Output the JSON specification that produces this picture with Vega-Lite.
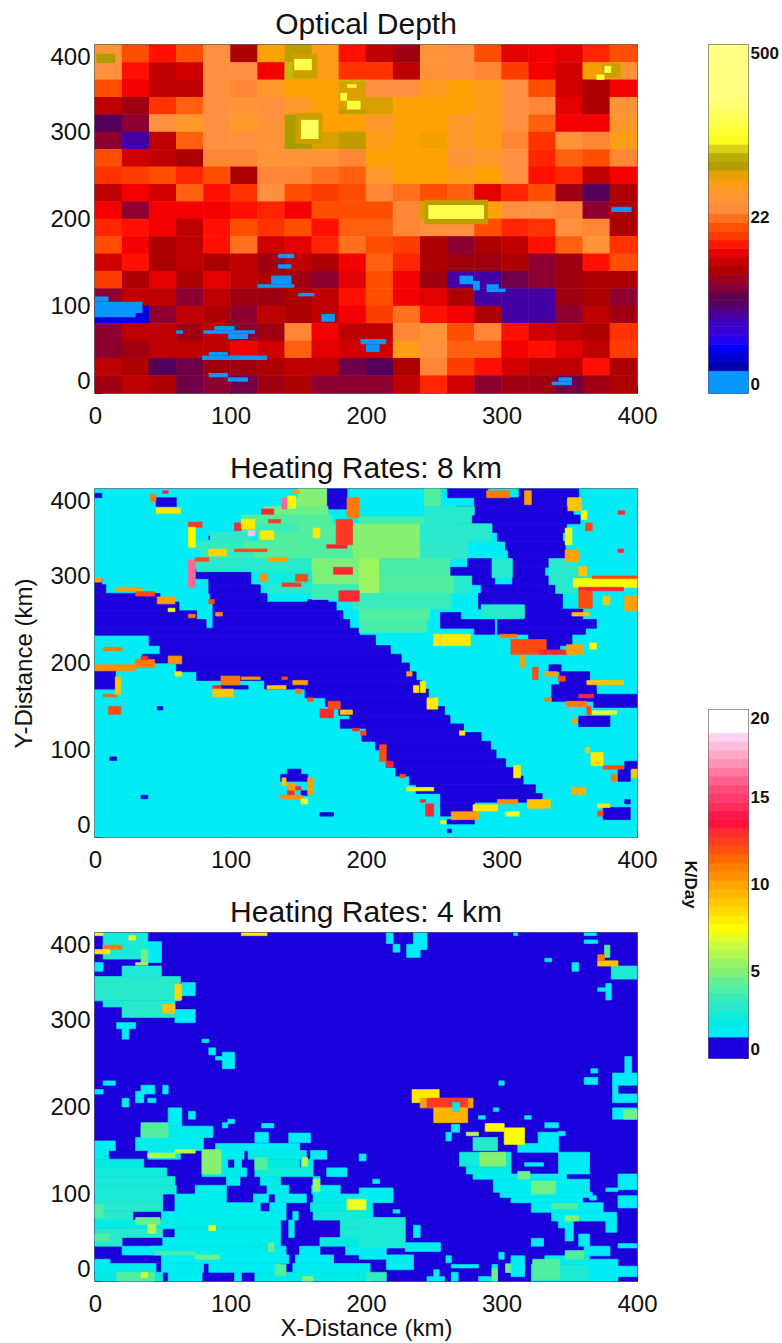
{"$schema":"https://vega.github.io/schema/vega-lite/v6.json","background":"white","padding":{"left":12,"top":8,"right":0,"bottom":0},"bounds":"flush","spacing":614,"resolve":{"scale":{"color":"independent","stroke":"independent"}},
"config":{"view":{"stroke":"#333333","strokeWidth":1.5},"axis":{"grid":false,"labelFont":"Liberation Sans","labelFontSize":24,"labelColor":"#111","tickColor":"#222","domain":false,"titleFont":"Liberation Sans","titleFontWeight":"normal","titleColor":"#111"},"title":{"font":"Liberation Sans","fontSize":30,"fontWeight":"normal","color":"#111","offset":5}},
"hconcat":[{"resolve":{"scale":{"color":"independent","stroke":"independent"}},"vconcat":[
{"width":542,"height":348,"title":"Optical Depth","layer":[
{"data":{"values":[
{"x":10,"y":390,"v":30},{"x":30,"y":390,"v":18},{"x":50,"y":390,"v":13},{"x":70,"y":390,"v":18},{"x":90,"y":390,"v":27},{"x":110,"y":390,"v":8},{"x":130,"y":390,"v":43},{"x":150,"y":390,"v":55},{"x":170,"y":390,"v":40},{"x":190,"y":390,"v":13},{"x":210,"y":390,"v":9},{"x":230,"y":390,"v":7},{"x":250,"y":390,"v":30},{"x":270,"y":390,"v":27},{"x":290,"y":390,"v":18},{"x":310,"y":390,"v":11},{"x":330,"y":390,"v":12},{"x":350,"y":390,"v":11},{"x":370,"y":390,"v":14},{"x":390,"y":390,"v":18},
{"x":10,"y":370,"v":27},{"x":30,"y":370,"v":13},{"x":50,"y":370,"v":9},{"x":70,"y":370,"v":10},{"x":90,"y":370,"v":27},{"x":110,"y":370,"v":27},{"x":130,"y":370,"v":12},{"x":150,"y":370,"v":70},{"x":170,"y":370,"v":40},{"x":190,"y":370,"v":15},{"x":210,"y":370,"v":15},{"x":230,"y":370,"v":9},{"x":250,"y":370,"v":30},{"x":270,"y":370,"v":27},{"x":290,"y":370,"v":25},{"x":310,"y":370,"v":16},{"x":330,"y":370,"v":12},{"x":350,"y":370,"v":10},{"x":370,"y":370,"v":45},{"x":390,"y":370,"v":30},
{"x":10,"y":350,"v":18},{"x":30,"y":350,"v":12},{"x":50,"y":350,"v":9},{"x":70,"y":350,"v":9},{"x":90,"y":350,"v":27},{"x":110,"y":350,"v":25},{"x":130,"y":350,"v":35},{"x":150,"y":350,"v":43},{"x":170,"y":350,"v":43},{"x":190,"y":350,"v":70},{"x":210,"y":350,"v":27},{"x":230,"y":350,"v":27},{"x":250,"y":350,"v":38},{"x":270,"y":350,"v":43},{"x":290,"y":350,"v":40},{"x":310,"y":350,"v":27},{"x":330,"y":350,"v":18},{"x":350,"y":350,"v":10},{"x":370,"y":350,"v":8},{"x":390,"y":350,"v":12},
{"x":10,"y":330,"v":9},{"x":30,"y":330,"v":7},{"x":50,"y":330,"v":15},{"x":70,"y":330,"v":20},{"x":90,"y":330,"v":27},{"x":110,"y":330,"v":30},{"x":130,"y":330,"v":27},{"x":150,"y":330,"v":35},{"x":170,"y":330,"v":43},{"x":190,"y":330,"v":55},{"x":210,"y":330,"v":50},{"x":230,"y":330,"v":43},{"x":250,"y":330,"v":43},{"x":270,"y":330,"v":43},{"x":290,"y":330,"v":40},{"x":310,"y":330,"v":27},{"x":330,"y":330,"v":25},{"x":350,"y":330,"v":11},{"x":370,"y":330,"v":8},{"x":390,"y":330,"v":30},
{"x":10,"y":310,"v":4},{"x":30,"y":310,"v":6},{"x":50,"y":310,"v":27},{"x":70,"y":310,"v":35},{"x":90,"y":310,"v":27},{"x":110,"y":310,"v":35},{"x":130,"y":310,"v":30},{"x":150,"y":310,"v":60},{"x":170,"y":310,"v":43},{"x":190,"y":310,"v":43},{"x":210,"y":310,"v":35},{"x":230,"y":310,"v":43},{"x":250,"y":310,"v":43},{"x":270,"y":310,"v":35},{"x":290,"y":310,"v":40},{"x":310,"y":310,"v":27},{"x":330,"y":310,"v":20},{"x":350,"y":310,"v":12},{"x":370,"y":310,"v":12},{"x":390,"y":310,"v":35},
{"x":10,"y":290,"v":6},{"x":30,"y":290,"v":3},{"x":50,"y":290,"v":9},{"x":70,"y":290,"v":20},{"x":90,"y":290,"v":27},{"x":110,"y":290,"v":27},{"x":130,"y":290,"v":30},{"x":150,"y":290,"v":60},{"x":170,"y":290,"v":50},{"x":190,"y":290,"v":55},{"x":210,"y":290,"v":40},{"x":230,"y":290,"v":43},{"x":250,"y":290,"v":45},{"x":270,"y":290,"v":35},{"x":290,"y":290,"v":40},{"x":310,"y":290,"v":25},{"x":330,"y":290,"v":15},{"x":350,"y":290,"v":30},{"x":370,"y":290,"v":25},{"x":390,"y":290,"v":40},
{"x":10,"y":270,"v":18},{"x":30,"y":270,"v":10},{"x":50,"y":270,"v":9},{"x":70,"y":270,"v":8},{"x":90,"y":270,"v":25},{"x":110,"y":270,"v":25},{"x":130,"y":270,"v":30},{"x":150,"y":270,"v":30},{"x":170,"y":270,"v":30},{"x":190,"y":270,"v":25},{"x":210,"y":270,"v":43},{"x":230,"y":270,"v":43},{"x":250,"y":270,"v":43},{"x":270,"y":270,"v":30},{"x":290,"y":270,"v":35},{"x":310,"y":270,"v":27},{"x":330,"y":270,"v":14},{"x":350,"y":270,"v":20},{"x":370,"y":270,"v":18},{"x":390,"y":270,"v":25},
{"x":10,"y":250,"v":15},{"x":30,"y":250,"v":16},{"x":50,"y":250,"v":18},{"x":70,"y":250,"v":14},{"x":90,"y":250,"v":18},{"x":110,"y":250,"v":8},{"x":130,"y":250,"v":25},{"x":150,"y":250,"v":25},{"x":170,"y":250,"v":22},{"x":190,"y":250,"v":20},{"x":210,"y":250,"v":35},{"x":230,"y":250,"v":43},{"x":250,"y":250,"v":43},{"x":270,"y":250,"v":40},{"x":290,"y":250,"v":43},{"x":310,"y":250,"v":27},{"x":330,"y":250,"v":13},{"x":350,"y":250,"v":14},{"x":370,"y":250,"v":9},{"x":390,"y":250,"v":12},
{"x":10,"y":230,"v":9},{"x":30,"y":230,"v":12},{"x":50,"y":230,"v":10},{"x":70,"y":230,"v":20},{"x":90,"y":230,"v":13},{"x":110,"y":230,"v":15},{"x":130,"y":230,"v":27},{"x":150,"y":230,"v":18},{"x":170,"y":230,"v":16},{"x":190,"y":230,"v":18},{"x":210,"y":230,"v":25},{"x":230,"y":230,"v":22},{"x":250,"y":230,"v":18},{"x":270,"y":230,"v":20},{"x":290,"y":230,"v":11},{"x":310,"y":230,"v":14},{"x":330,"y":230,"v":18},{"x":350,"y":230,"v":7},{"x":370,"y":230,"v":4},{"x":390,"y":230,"v":8},
{"x":10,"y":210,"v":12},{"x":30,"y":210,"v":6},{"x":50,"y":210,"v":12},{"x":70,"y":210,"v":12},{"x":90,"y":210,"v":12},{"x":110,"y":210,"v":13},{"x":130,"y":210,"v":14},{"x":150,"y":210,"v":12},{"x":170,"y":210,"v":18},{"x":190,"y":210,"v":18},{"x":210,"y":210,"v":18},{"x":230,"y":210,"v":25},{"x":250,"y":210,"v":50},{"x":270,"y":210,"v":50},{"x":290,"y":210,"v":43},{"x":310,"y":210,"v":27},{"x":330,"y":210,"v":27},{"x":350,"y":210,"v":25},{"x":370,"y":210,"v":6},{"x":390,"y":210,"v":8},
{"x":10,"y":190,"v":14},{"x":30,"y":190,"v":13},{"x":50,"y":190,"v":12},{"x":70,"y":190,"v":9},{"x":90,"y":190,"v":13},{"x":110,"y":190,"v":18},{"x":130,"y":190,"v":15},{"x":150,"y":190,"v":18},{"x":170,"y":190,"v":13},{"x":190,"y":190,"v":20},{"x":210,"y":190,"v":20},{"x":230,"y":190,"v":25},{"x":250,"y":190,"v":27},{"x":270,"y":190,"v":27},{"x":290,"y":190,"v":18},{"x":310,"y":190,"v":14},{"x":330,"y":190,"v":15},{"x":350,"y":190,"v":27},{"x":370,"y":190,"v":25},{"x":390,"y":190,"v":8},
{"x":10,"y":170,"v":18},{"x":30,"y":170,"v":12},{"x":50,"y":170,"v":8},{"x":70,"y":170,"v":9},{"x":90,"y":170,"v":13},{"x":110,"y":170,"v":22},{"x":130,"y":170,"v":10},{"x":150,"y":170,"v":11},{"x":170,"y":170,"v":14},{"x":190,"y":170,"v":22},{"x":210,"y":170,"v":18},{"x":230,"y":170,"v":16},{"x":250,"y":170,"v":8},{"x":270,"y":170,"v":6},{"x":290,"y":170,"v":8},{"x":310,"y":170,"v":9},{"x":330,"y":170,"v":13},{"x":350,"y":170,"v":20},{"x":370,"y":170,"v":30},{"x":390,"y":170,"v":15},
{"x":10,"y":150,"v":10},{"x":30,"y":150,"v":13},{"x":50,"y":150,"v":8},{"x":70,"y":150,"v":9},{"x":90,"y":150,"v":8},{"x":110,"y":150,"v":9},{"x":130,"y":150,"v":7},{"x":150,"y":150,"v":9},{"x":170,"y":150,"v":8},{"x":190,"y":150,"v":12},{"x":210,"y":150,"v":20},{"x":230,"y":150,"v":14},{"x":250,"y":150,"v":8},{"x":270,"y":150,"v":7},{"x":290,"y":150,"v":7},{"x":310,"y":150,"v":8},{"x":330,"y":150,"v":6},{"x":350,"y":150,"v":7},{"x":370,"y":150,"v":13},{"x":390,"y":150,"v":18},
{"x":10,"y":130,"v":16},{"x":30,"y":130,"v":8},{"x":50,"y":130,"v":11},{"x":70,"y":130,"v":8},{"x":90,"y":130,"v":11},{"x":110,"y":130,"v":9},{"x":130,"y":130,"v":8},{"x":150,"y":130,"v":7},{"x":170,"y":130,"v":6},{"x":190,"y":130,"v":11},{"x":210,"y":130,"v":18},{"x":230,"y":130,"v":12},{"x":250,"y":130,"v":7},{"x":270,"y":130,"v":3},{"x":290,"y":130,"v":3},{"x":310,"y":130,"v":5},{"x":330,"y":130,"v":6},{"x":350,"y":130,"v":7},{"x":370,"y":130,"v":8},{"x":390,"y":130,"v":8},
{"x":10,"y":110,"v":6},{"x":30,"y":110,"v":9},{"x":50,"y":110,"v":9},{"x":70,"y":110,"v":6},{"x":90,"y":110,"v":9},{"x":110,"y":110,"v":7},{"x":130,"y":110,"v":7},{"x":150,"y":110,"v":8},{"x":170,"y":110,"v":9},{"x":190,"y":110,"v":13},{"x":210,"y":110,"v":18},{"x":230,"y":110,"v":12},{"x":250,"y":110,"v":11},{"x":270,"y":110,"v":8},{"x":290,"y":110,"v":3},{"x":310,"y":110,"v":3},{"x":330,"y":110,"v":3},{"x":350,"y":110,"v":7},{"x":370,"y":110,"v":8},{"x":390,"y":110,"v":6},
{"x":10,"y":90,"v":1},{"x":30,"y":90,"v":1},{"x":50,"y":90,"v":6},{"x":70,"y":90,"v":9},{"x":90,"y":90,"v":8},{"x":110,"y":90,"v":6},{"x":130,"y":90,"v":9},{"x":150,"y":90,"v":8},{"x":170,"y":90,"v":9},{"x":190,"y":90,"v":12},{"x":210,"y":90,"v":16},{"x":230,"y":90,"v":22},{"x":250,"y":90,"v":13},{"x":270,"y":90,"v":12},{"x":290,"y":90,"v":8},{"x":310,"y":90,"v":3},{"x":330,"y":90,"v":3},{"x":350,"y":90,"v":6},{"x":370,"y":90,"v":9},{"x":390,"y":90,"v":7},
{"x":10,"y":70,"v":6},{"x":30,"y":70,"v":9},{"x":50,"y":70,"v":9},{"x":70,"y":70,"v":7},{"x":90,"y":70,"v":9},{"x":110,"y":70,"v":6},{"x":130,"y":70,"v":7},{"x":150,"y":70,"v":25},{"x":170,"y":70,"v":12},{"x":190,"y":70,"v":9},{"x":210,"y":70,"v":9},{"x":230,"y":70,"v":25},{"x":250,"y":70,"v":30},{"x":270,"y":70,"v":18},{"x":290,"y":70,"v":25},{"x":310,"y":70,"v":13},{"x":330,"y":70,"v":10},{"x":350,"y":70,"v":9},{"x":370,"y":70,"v":8},{"x":390,"y":70,"v":15},
{"x":10,"y":50,"v":6},{"x":30,"y":50,"v":7},{"x":50,"y":50,"v":9},{"x":70,"y":50,"v":9},{"x":90,"y":50,"v":9},{"x":110,"y":50,"v":12},{"x":130,"y":50,"v":10},{"x":150,"y":50,"v":20},{"x":170,"y":50,"v":11},{"x":190,"y":50,"v":10},{"x":210,"y":50,"v":10},{"x":230,"y":50,"v":40},{"x":250,"y":50,"v":27},{"x":270,"y":50,"v":20},{"x":290,"y":50,"v":20},{"x":310,"y":50,"v":12},{"x":330,"y":50,"v":13},{"x":350,"y":50,"v":11},{"x":370,"y":50,"v":9},{"x":390,"y":50,"v":16},
{"x":10,"y":30,"v":9},{"x":30,"y":30,"v":8},{"x":50,"y":30,"v":4},{"x":70,"y":30,"v":5},{"x":90,"y":30,"v":7},{"x":110,"y":30,"v":7},{"x":130,"y":30,"v":8},{"x":150,"y":30,"v":9},{"x":170,"y":30,"v":9},{"x":190,"y":30,"v":5},{"x":210,"y":30,"v":4},{"x":230,"y":30,"v":8},{"x":250,"y":30,"v":25},{"x":270,"y":30,"v":16},{"x":290,"y":30,"v":13},{"x":310,"y":30,"v":10},{"x":330,"y":30,"v":9},{"x":350,"y":30,"v":9},{"x":370,"y":30,"v":13},{"x":390,"y":30,"v":8},
{"x":10,"y":10,"v":7},{"x":30,"y":10,"v":9},{"x":50,"y":10,"v":8},{"x":70,"y":10,"v":5},{"x":90,"y":10,"v":6},{"x":110,"y":10,"v":5},{"x":130,"y":10,"v":7},{"x":150,"y":10,"v":8},{"x":170,"y":10,"v":6},{"x":190,"y":10,"v":6},{"x":210,"y":10,"v":6},{"x":230,"y":10,"v":9},{"x":250,"y":10,"v":14},{"x":270,"y":10,"v":10},{"x":290,"y":10,"v":6},{"x":310,"y":10,"v":7},{"x":330,"y":10,"v":7},{"x":350,"y":10,"v":5},{"x":370,"y":10,"v":7},{"x":390,"y":10,"v":8}
]},"mark":{"type":"rect","width":27.6,"height":17.9},"encoding":{"x":{"field":"x","type":"quantitative","scale":{"domain":[0,400],"nice":false},"axis":{"values":[0,100,200,300,400],"title":null,"tickSize":-7,"labelPadding":18,"labelFlush":false}},"y":{"field":"y","type":"quantitative","scale":{"domain":[0,400],"nice":false},"axis":{"values":[0,100,200,300,400],"title":null,"tickSize":-7,"labelPadding":12,"labelFlush":true}},"color":{"field":"v","type":"quantitative","legend":null,"scale":{"domain":[0,0.48,0.5,1.24,2.93,4.19,7.28,12.6,18.3,26.6,43.4,59.6,92.4,196,455,500],"range":["#0a96ff","#0a96ff","#0000a0","#0000ff","#4000a8","#50004f","#a00000","#ff0000","#ff5000","#ff9040","#ffa000","#a89a00","#ffff20","#ffff80","#ffffff","#ffffff"]}}}},
{"data":{"values":[
{"x":1,"x2":15,"y":379,"y2":390,"v":58},{"x":146,"x2":164,"y":362,"y2":390,"v":52},{"x":148,"x2":168,"y":286,"y2":322,"v":52},{"x":180,"x2":200,"y":326,"y2":358,"v":50},{"x":374,"x2":388,"y":362,"y2":380,"v":52},{"x":243,"x2":290,"y":194,"y2":222,"v":55},
{"x":147,"x2":160,"y":371,"y2":384,"v":130},{"x":152,"x2":165,"y":292,"y2":314,"v":150},{"x":181,"x2":186,"y":336,"y2":345,"v":110},{"x":186,"x2":196,"y":326,"y2":336,"v":110},{"x":186,"x2":193,"y":351,"y2":355,"v":100},{"x":246,"x2":287,"y":200,"y2":216,"v":130},{"x":376,"x2":381,"y":368,"y2":376,"v":130},{"x":370,"x2":376,"y":360,"y2":366,"v":100},
{"x":0,"x2":10,"y":105,"y2":111,"v":0.2},{"x":0,"x2":35,"y":92,"y2":105,"v":0.2},{"x":0,"x2":30,"y":87,"y2":92,"v":0.2},{"x":135,"x2":147,"y":155,"y2":160,"v":0.2},{"x":135,"x2":145,"y":143,"y2":148,"v":0.2},{"x":130,"x2":145,"y":125,"y2":135,"v":0.2},{"x":120,"x2":147,"y":121,"y2":125,"v":0.2},{"x":150,"x2":162,"y":111,"y2":115,"v":0.2},{"x":167,"x2":177,"y":82,"y2":91,"v":0.2},{"x":60,"x2":65,"y":68,"y2":72,"v":0.2},{"x":88,"x2":103,"y":72,"y2":77,"v":0.2},{"x":80,"x2":118,"y":68,"y2":72,"v":0.2},{"x":98,"x2":113,"y":62,"y2":68,"v":0.2},{"x":84,"x2":98,"y":43,"y2":47,"v":0.2},{"x":79,"x2":127,"y":38,"y2":43,"v":0.2},{"x":84,"x2":98,"y":18,"y2":23,"v":0.2},{"x":98,"x2":113,"y":13,"y2":18,"v":0.2},{"x":269,"x2":279,"y":125,"y2":135,"v":0.2},{"x":279,"x2":284,"y":118,"y2":129,"v":0.2},{"x":289,"x2":298,"y":116,"y2":125,"v":0.2},{"x":298,"x2":303,"y":116,"y2":120,"v":0.2},{"x":196,"x2":215,"y":56,"y2":62,"v":0.2},{"x":200,"x2":210,"y":47,"y2":56,"v":0.2},{"x":342,"x2":352,"y":13,"y2":18,"v":0.2},{"x":337,"x2":352,"y":9,"y2":13,"v":0.2},{"x":381,"x2":396,"y":208,"y2":214,"v":0.2}
]},"mark":"rect","encoding":{"x":{"field":"x","type":"quantitative"},"x2":{"field":"x2"},"y":{"field":"y","type":"quantitative"},"y2":{"field":"y2"},"color":{"field":"v","type":"quantitative","legend":null}}}
]},
{"width":542,"height":348,"title":"Heating Rates: 8 km","data":{"values":[
{"x":0,"x2":400,"y":0,"y2":400,"v":1.5},
{"x":0,"x2":5,"y":290,"y2":297,"v":0.5},{"x":84,"x2":115,"y":290,"y2":305,"v":0.5},{"x":74,"x2":84,"y":297,"y2":307,"v":0.5},{"x":0,"x2":8,"y":280,"y2":290,"v":0.5},{"x":84,"x2":122,"y":280,"y2":290,"v":0.5},{"x":0,"x2":48,"y":270,"y2":280,"v":0.5},{"x":85,"x2":127,"y":270,"y2":280,"v":0.5},{"x":157,"x2":172,"y":270,"y2":273,"v":0.5},{"x":0,"x2":62,"y":260,"y2":270,"v":0.5},{"x":87,"x2":178,"y":260,"y2":270,"v":0.5},{"x":0,"x2":75,"y":250,"y2":260,"v":0.5},{"x":87,"x2":183,"y":250,"y2":260,"v":0.5},{"x":0,"x2":82,"y":240,"y2":250,"v":0.5},{"x":87,"x2":188,"y":240,"y2":250,"v":0.5},{"x":0,"x2":195,"y":232,"y2":240,"v":0.5},{"x":40,"x2":207,"y":220,"y2":232,"v":0.5},{"x":48,"x2":218,"y":210,"y2":220,"v":0.5},{"x":35,"x2":226,"y":200,"y2":210,"v":0.5},{"x":60,"x2":232,"y":190,"y2":200,"v":0.5},{"x":75,"x2":237,"y":180,"y2":190,"v":0.5},{"x":125,"x2":241,"y":170,"y2":180,"v":0.5},{"x":155,"x2":246,"y":160,"y2":170,"v":0.5},{"x":170,"x2":250,"y":150,"y2":160,"v":0.5},{"x":180,"x2":258,"y":140,"y2":150,"v":0.5},{"x":188,"x2":262,"y":130,"y2":140,"v":0.5},{"x":181,"x2":200,"y":125,"y2":135,"v":0.5},{"x":200,"x2":272,"y":120,"y2":130,"v":0.5},{"x":197,"x2":285,"y":110,"y2":120,"v":0.5},{"x":207,"x2":292,"y":100,"y2":110,"v":0.5},{"x":212,"x2":296,"y":90,"y2":100,"v":0.5},{"x":215,"x2":303,"y":80,"y2":90,"v":0.5},{"x":222,"x2":310,"y":70,"y2":80,"v":0.5},{"x":232,"x2":316,"y":60,"y2":70,"v":0.5},{"x":237,"x2":325,"y":50,"y2":60,"v":0.5},{"x":255,"x2":330,"y":40,"y2":50,"v":0.5},{"x":255,"x2":280,"y":24,"y2":40,"v":0.5},{"x":260,"x2":280,"y":15,"y2":20,"v":0.5},{"x":260,"x2":263,"y":5,"y2":9,"v":0.5},
{"x":260,"x2":290,"y":390,"y2":400,"v":0.5},{"x":313,"x2":357,"y":390,"y2":400,"v":0.5},{"x":280,"x2":348,"y":380,"y2":390,"v":0.5},{"x":267,"x2":353,"y":370,"y2":380,"v":0.5},{"x":265,"x2":358,"y":360,"y2":370,"v":0.5},{"x":290,"x2":348,"y":350,"y2":360,"v":0.5},{"x":297,"x2":345,"y":340,"y2":350,"v":0.5},{"x":303,"x2":347,"y":330,"y2":340,"v":0.5},{"x":305,"x2":347,"y":320,"y2":330,"v":0.5},{"x":275,"x2":293,"y":310,"y2":320,"v":0.5},{"x":308,"x2":335,"y":310,"y2":320,"v":0.5},{"x":260,"x2":293,"y":300,"y2":310,"v":0.5},{"x":308,"x2":332,"y":300,"y2":310,"v":0.5},{"x":275,"x2":295,"y":290,"y2":300,"v":0.5},{"x":308,"x2":340,"y":290,"y2":300,"v":0.5},{"x":285,"x2":340,"y":280,"y2":290,"v":0.5},{"x":283,"x2":345,"y":270,"y2":280,"v":0.5},{"x":283,"x2":345,"y":262,"y2":270,"v":0.5},{"x":255,"x2":270,"y":250,"y2":258,"v":0.5},{"x":317,"x2":360,"y":250,"y2":262,"v":0.5},{"x":255,"x2":295,"y":240,"y2":250,"v":0.5},{"x":297,"x2":370,"y":240,"y2":250,"v":0.5},{"x":280,"x2":295,"y":233,"y2":240,"v":0.5},{"x":297,"x2":362,"y":233,"y2":240,"v":0.5},{"x":320,"x2":352,"y":220,"y2":233,"v":0.5},{"x":333,"x2":343,"y":212,"y2":220,"v":0.5},
{"x":335,"x2":344,"y":190,"y2":198,"v":0.5},{"x":343,"x2":365,"y":171,"y2":190,"v":0.5},{"x":337,"x2":370,"y":156,"y2":175,"v":0.5},{"x":368,"x2":400,"y":149,"y2":164,"v":0.5},{"x":357,"x2":380,"y":127,"y2":139,"v":0.5},{"x":386,"x2":395,"y":64,"y2":78,"v":0.5},{"x":391,"x2":400,"y":78,"y2":87,"v":0.5},{"x":375,"x2":395,"y":20,"y2":34,"v":0.5},{"x":391,"x2":395,"y":38,"y2":43,"v":0.5},
{"x":0,"x2":15,"y":170,"y2":191,"v":0.5},{"x":0,"x2":5,"y":390,"y2":395,"v":0.5},{"x":45,"x2":60,"y":380,"y2":390,"v":0.5},{"x":84,"x2":93,"y":342,"y2":346,"v":0.5},{"x":137,"x2":148,"y":328,"y2":332,"v":0.5},{"x":171,"x2":186,"y":377,"y2":400,"v":0.5},{"x":46,"x2":50,"y":146,"y2":150,"v":0.5},{"x":11,"x2":16,"y":88,"y2":92,"v":0.5},{"x":34,"x2":39,"y":44,"y2":48,"v":0.5},{"x":166,"x2":176,"y":24,"y2":28,"v":0.5},{"x":142,"x2":152,"y":72,"y2":78,"v":0.5},{"x":137,"x2":157,"y":64,"y2":72,"v":0.5},{"x":152,"x2":157,"y":48,"y2":53,"v":0.5},{"x":93,"x2":113,"y":170,"y2":174,"v":0.5},
{"x":150,"x2":171,"y":390,"y2":400,"v":5},{"x":140,"x2":171,"y":380,"y2":390,"v":5},{"x":125,"x2":172,"y":370,"y2":380,"v":4.5},{"x":108,"x2":175,"y":360,"y2":370,"v":4},{"x":105,"x2":150,"y":350,"y2":360,"v":3.5},{"x":150,"x2":195,"y":350,"y2":360,"v":4},{"x":85,"x2":115,"y":340,"y2":350,"v":3},{"x":120,"x2":195,"y":340,"y2":350,"v":4},{"x":75,"x2":110,"y":330,"y2":340,"v":3.2},{"x":110,"x2":190,"y":330,"y2":340,"v":4},{"x":190,"x2":240,"y":320,"y2":360,"v":5},{"x":78,"x2":117,"y":320,"y2":330,"v":3.2},{"x":117,"x2":190,"y":320,"y2":330,"v":4},{"x":75,"x2":160,"y":305,"y2":320,"v":2.8},{"x":160,"x2":195,"y":290,"y2":320,"v":4.8},{"x":122,"x2":160,"y":290,"y2":305,"v":2.4},{"x":127,"x2":160,"y":280,"y2":290,"v":2.8},{"x":160,"x2":195,"y":273,"y2":290,"v":3.5},
{"x":243,"x2":255,"y":380,"y2":400,"v":4},{"x":243,"x2":280,"y":370,"y2":380,"v":2.8},{"x":243,"x2":278,"y":360,"y2":370,"v":2.8},{"x":195,"x2":243,"y":360,"y2":368,"v":3.8},{"x":240,"x2":293,"y":340,"y2":360,"v":2.8},{"x":240,"x2":275,"y":320,"y2":340,"v":3},{"x":195,"x2":210,"y":300,"y2":320,"v":5.5},{"x":210,"x2":262,"y":300,"y2":320,"v":3.8},{"x":195,"x2":210,"y":280,"y2":300,"v":5.5},{"x":210,"x2":265,"y":280,"y2":300,"v":4},{"x":265,"x2":278,"y":280,"y2":300,"v":2.8},{"x":190,"x2":263,"y":262,"y2":280,"v":3.4},{"x":195,"x2":247,"y":250,"y2":262,"v":4},{"x":195,"x2":245,"y":235,"y2":250,"v":3.8},{"x":285,"x2":317,"y":252,"y2":267,"v":2.8},{"x":293,"x2":308,"y":298,"y2":320,"v":2.8},{"x":335,"x2":357,"y":290,"y2":320,"v":2.8},{"x":340,"x2":357,"y":280,"y2":290,"v":2.8},
{"x":0,"x2":5,"y":293,"y2":298,"v":10},{"x":0,"x2":30,"y":191,"y2":198,"v":10.5},{"x":6,"x2":20,"y":214,"y2":218,"v":11},{"x":30,"x2":44,"y":195,"y2":204,"v":11},{"x":34,"x2":39,"y":204,"y2":208,"v":13},{"x":54,"x2":64,"y":199,"y2":208,"v":10.5},{"x":16,"x2":34,"y":283,"y2":287,"v":10},{"x":30,"x2":44,"y":277,"y2":282,"v":12},{"x":46,"x2":59,"y":268,"y2":276,"v":10},{"x":69,"x2":74,"y":252,"y2":256,"v":11},{"x":89,"x2":94,"y":254,"y2":258,"v":10.5},{"x":84,"x2":88,"y":268,"y2":273,"v":12},{"x":54,"x2":59,"y":259,"y2":263,"v":7},{"x":69,"x2":79,"y":356,"y2":362,"v":12.5},{"x":69,"x2":74,"y":333,"y2":356,"v":7.5},{"x":69,"x2":74,"y":287,"y2":318,"v":16},{"x":74,"x2":84,"y":317,"y2":321,"v":12},{"x":84,"x2":97,"y":323,"y2":331,"v":8.5},{"x":103,"x2":127,"y":328,"y2":331,"v":12},{"x":103,"x2":108,"y":352,"y2":361,"v":13},{"x":108,"x2":118,"y":354,"y2":365,"v":8},{"x":113,"x2":118,"y":346,"y2":352,"v":18},{"x":122,"x2":132,"y":342,"y2":352,"v":8},{"x":128,"x2":137,"y":361,"y2":365,"v":12.5},{"x":123,"x2":132,"y":371,"y2":377,"v":13},{"x":138,"x2":142,"y":377,"y2":390,"v":16},{"x":142,"x2":148,"y":378,"y2":392,"v":7.5},{"x":146,"x2":151,"y":395,"y2":398,"v":10},{"x":122,"x2":127,"y":294,"y2":302,"v":10.5},{"x":138,"x2":152,"y":288,"y2":292,"v":12.5},{"x":148,"x2":157,"y":294,"y2":302,"v":12},{"x":128,"x2":142,"y":317,"y2":321,"v":10},{"x":176,"x2":190,"y":302,"y2":310,"v":13},{"x":161,"x2":166,"y":344,"y2":355,"v":8},{"x":171,"x2":186,"y":332,"y2":336,"v":13},{"x":178,"x2":190,"y":336,"y2":365,"v":12.5},{"x":186,"x2":195,"y":367,"y2":390,"v":11},{"x":180,"x2":195,"y":271,"y2":283,"v":13},{"x":41,"x2":45,"y":386,"y2":394,"v":11},{"x":50,"x2":54,"y":395,"y2":398,"v":14},{"x":45,"x2":63,"y":372,"y2":378,"v":8},
{"x":138,"x2":141,"y":59,"y2":68,"v":9},{"x":142,"x2":148,"y":53,"y2":62,"v":10},{"x":142,"x2":147,"y":47,"y2":53,"v":13},{"x":148,"x2":152,"y":54,"y2":58,"v":13},{"x":157,"x2":161,"y":49,"y2":68,"v":10},{"x":137,"x2":153,"y":44,"y2":48,"v":10.5},{"x":152,"x2":157,"y":38,"y2":44,"v":7},{"x":10,"x2":19,"y":141,"y2":150,"v":12},{"x":6,"x2":16,"y":161,"y2":164,"v":11.5},{"x":15,"x2":19,"y":164,"y2":184,"v":9},{"x":59,"x2":64,"y":185,"y2":190,"v":8},{"x":87,"x2":93,"y":170,"y2":174,"v":13},{"x":87,"x2":102,"y":161,"y2":170,"v":9},{"x":93,"x2":107,"y":175,"y2":185,"v":11},{"x":108,"x2":122,"y":181,"y2":184,"v":10.5},{"x":138,"x2":142,"y":181,"y2":184,"v":12},{"x":146,"x2":157,"y":175,"y2":180,"v":10},{"x":127,"x2":141,"y":170,"y2":174,"v":9},{"x":148,"x2":152,"y":165,"y2":170,"v":11},{"x":157,"x2":161,"y":156,"y2":160,"v":12},{"x":166,"x2":176,"y":137,"y2":147,"v":13},{"x":172,"x2":181,"y":147,"y2":156,"v":12},{"x":181,"x2":190,"y":141,"y2":146,"v":9},{"x":190,"x2":195,"y":122,"y2":125,"v":13},
{"x":289,"x2":306,"y":390,"y2":398,"v":11},{"x":317,"x2":322,"y":382,"y2":398,"v":10},{"x":349,"x2":359,"y":375,"y2":390,"v":9},{"x":359,"x2":363,"y":365,"y2":375,"v":7.5},{"x":362,"x2":367,"y":352,"y2":361,"v":12},{"x":347,"x2":352,"y":336,"y2":355,"v":7},{"x":347,"x2":357,"y":317,"y2":330,"v":10},{"x":357,"x2":363,"y":300,"y2":311,"v":9},{"x":353,"x2":400,"y":287,"y2":297,"v":7.5},{"x":367,"x2":400,"y":297,"y2":300,"v":12},{"x":357,"x2":390,"y":283,"y2":287,"v":13},{"x":357,"x2":367,"y":263,"y2":283,"v":12},{"x":375,"x2":380,"y":267,"y2":277,"v":9},{"x":391,"x2":400,"y":260,"y2":277,"v":10},{"x":386,"x2":390,"y":327,"y2":331,"v":13},{"x":386,"x2":391,"y":371,"y2":375,"v":13},{"x":352,"x2":365,"y":254,"y2":258,"v":9},{"x":299,"x2":311,"y":229,"y2":233,"v":11},{"x":250,"x2":277,"y":220,"y2":233,"v":8},{"x":307,"x2":333,"y":210,"y2":227,"v":12},{"x":328,"x2":348,"y":210,"y2":215,"v":13},{"x":348,"x2":360,"y":210,"y2":221,"v":10},{"x":365,"x2":370,"y":216,"y2":223,"v":7.5},{"x":314,"x2":317,"y":195,"y2":208,"v":10},{"x":323,"x2":327,"y":181,"y2":195,"v":12},{"x":332,"x2":341,"y":185,"y2":190,"v":10},{"x":342,"x2":347,"y":179,"y2":185,"v":12},{"x":363,"x2":390,"y":175,"y2":180,"v":9},{"x":357,"x2":368,"y":160,"y2":164,"v":13},{"x":348,"x2":363,"y":150,"y2":156,"v":11},{"x":363,"x2":366,"y":141,"y2":150,"v":12},{"x":367,"x2":385,"y":141,"y2":145,"v":7},{"x":332,"x2":337,"y":156,"y2":160,"v":11},{"x":352,"x2":356,"y":131,"y2":136,"v":10},
{"x":230,"x2":234,"y":185,"y2":190,"v":10},{"x":240,"x2":244,"y":166,"y2":179,"v":8},{"x":235,"x2":239,"y":166,"y2":174,"v":8},{"x":245,"x2":253,"y":147,"y2":160,"v":8},{"x":269,"x2":273,"y":117,"y2":122,"v":8},{"x":196,"x2":200,"y":117,"y2":122,"v":12},{"x":210,"x2":215,"y":87,"y2":106,"v":12},{"x":215,"x2":220,"y":80,"y2":87,"v":13},{"x":225,"x2":229,"y":68,"y2":72,"v":12},{"x":230,"x2":250,"y":53,"y2":57,"v":7},{"x":240,"x2":244,"y":40,"y2":43,"v":13},{"x":244,"x2":250,"y":24,"y2":38,"v":13},{"x":297,"x2":312,"y":38,"y2":43,"v":10.5},{"x":263,"x2":283,"y":20,"y2":29,"v":10},{"x":279,"x2":297,"y":30,"y2":37,"v":8},{"x":303,"x2":313,"y":24,"y2":29,"v":7},{"x":319,"x2":336,"y":33,"y2":43,"v":9},{"x":352,"x2":362,"y":49,"y2":57,"v":9.5},{"x":362,"x2":365,"y":97,"y2":103,"v":9},{"x":366,"x2":375,"y":82,"y2":97,"v":8},{"x":375,"x2":390,"y":78,"y2":82,"v":12},{"x":381,"x2":385,"y":64,"y2":72,"v":11},{"x":396,"x2":400,"y":68,"y2":78,"v":9},{"x":371,"x2":380,"y":34,"y2":38,"v":8},{"x":371,"x2":375,"y":24,"y2":30,"v":12},{"x":255,"x2":259,"y":15,"y2":19,"v":7.5},{"x":309,"x2":314,"y":68,"y2":82,"v":8}
]},"mark":{"type":"rect","strokeWidth":0.7},"encoding":{"x":{"field":"x","type":"quantitative","scale":{"domain":[0,400],"nice":false},"axis":{"values":[0,100,200,300,400],"title":null,"tickSize":-7,"labelPadding":18,"labelFlush":false}},"x2":{"field":"x2"},"y":{"field":"y","type":"quantitative","scale":{"domain":[0,400],"nice":false},"axis":{"values":[0,100,200,300,400],"title":"Y-Distance (km)","titleFontSize":24,"titlePadding":13,"tickSize":-7,"labelPadding":12,"labelFlush":true}},"y2":{"field":"y2"},"color":{"field":"v","type":"quantitative","legend":null,"scale":{"domain":[0,1.15,1.2,3,5,7.4,10,12,13.6,15.6,17.2,18.8,20],"range":["#1c00dc","#1c00dc","#00eeff","#30e8c8","#88f070","#ffff00","#ffa000","#ff4a10","#ff0040","#ff5080","#ffa0c0","#ffffff","#ffffff"]}},"stroke":{"field":"v","type":"quantitative","legend":null,"scale":{"domain":[0,1.15,1.2,3,5,7.4,10,12,13.6,15.6,17.2,18.8,20],"range":["#1c00dc","#1c00dc","#00eeff","#30e8c8","#88f070","#ffff00","#ffa000","#ff4a10","#ff0040","#ff5080","#ffa0c0","#ffffff","#ffffff"]}}}},
{"width":542,"height":348,"title":"Heating Rates: 4 km","data":{"values":[
{"x":0,"x2":400,"y":0,"y2":400,"v":0.5},
{"x":6,"x2":39,"y":370,"y2":400,"v":2.5},{"x":0,"x2":6,"y":356,"y2":366,"v":1.5},{"x":39,"x2":49,"y":366,"y2":390,"v":1.5},{"x":0,"x2":63,"y":322,"y2":350,"v":2.8},{"x":20,"x2":49,"y":350,"y2":362,"v":2.6},{"x":20,"x2":59,"y":303,"y2":322,"v":2.8},{"x":6,"x2":20,"y":315,"y2":322,"v":2.6},{"x":16,"x2":30,"y":290,"y2":297,"v":1.5},{"x":20,"x2":25,"y":278,"y2":290,"v":1.5},{"x":64,"x2":74,"y":328,"y2":343,"v":1.5},{"x":59,"x2":74,"y":297,"y2":312,"v":1.5},{"x":79,"x2":84,"y":274,"y2":278,"v":1.5},{"x":84,"x2":89,"y":260,"y2":268,"v":1.5},{"x":89,"x2":94,"y":254,"y2":258,"v":1.5},{"x":94,"x2":103,"y":244,"y2":263,"v":1.8},{"x":6,"x2":15,"y":225,"y2":230,"v":1.5},{"x":0,"x2":6,"y":215,"y2":220,"v":1.5},{"x":34,"x2":44,"y":215,"y2":225,"v":1.5},{"x":30,"x2":36,"y":205,"y2":218,"v":1.5},{"x":39,"x2":45,"y":205,"y2":210,"v":1.5},{"x":50,"x2":54,"y":215,"y2":225,"v":1.5},{"x":20,"x2":25,"y":200,"y2":210,"v":1.5},{"x":54,"x2":64,"y":178,"y2":199,"v":1.5},{"x":69,"x2":74,"y":186,"y2":195,"v":1.5},{"x":94,"x2":98,"y":176,"y2":182,"v":1.5},{"x":98,"x2":103,"y":181,"y2":186,"v":1.5},{"x":123,"x2":132,"y":176,"y2":181,"v":1.5},
{"x":34,"x2":87,"y":165,"y2":178,"v":1.8},{"x":118,"x2":128,"y":159,"y2":171,"v":1.5},{"x":143,"x2":159,"y":159,"y2":170,"v":1.5},{"x":30,"x2":80,"y":150,"y2":165,"v":1.8},{"x":0,"x2":15,"y":150,"y2":161,"v":1.5},{"x":89,"x2":151,"y":150,"y2":158,"v":1.6},{"x":0,"x2":10,"y":140,"y2":150,"v":1.8},{"x":39,"x2":63,"y":140,"y2":150,"v":1.8},{"x":79,"x2":110,"y":140,"y2":150,"v":1.8},{"x":113,"x2":156,"y":140,"y2":150,"v":2},{"x":159,"x2":171,"y":140,"y2":150,"v":1.5},{"x":0,"x2":36,"y":130,"y2":140,"v":2.2},{"x":79,"x2":98,"y":130,"y2":140,"v":2},{"x":103,"x2":108,"y":130,"y2":140,"v":1.5},{"x":118,"x2":151,"y":130,"y2":140,"v":2.2},{"x":152,"x2":161,"y":130,"y2":140,"v":1.5},{"x":0,"x2":53,"y":120,"y2":130,"v":2.4},{"x":79,"x2":112,"y":120,"y2":130,"v":2},{"x":118,"x2":161,"y":120,"y2":130,"v":2.4},{"x":171,"x2":186,"y":120,"y2":130,"v":1.5},{"x":0,"x2":59,"y":110,"y2":120,"v":2.5},{"x":97,"x2":107,"y":110,"y2":120,"v":1.8},{"x":122,"x2":137,"y":110,"y2":120,"v":2},{"x":161,"x2":166,"y":110,"y2":120,"v":1.5},{"x":0,"x2":60,"y":100,"y2":110,"v":2.5},{"x":74,"x2":97,"y":100,"y2":110,"v":1.8},{"x":127,"x2":143,"y":100,"y2":110,"v":1.8},{"x":160,"x2":181,"y":100,"y2":110,"v":1.8},{"x":0,"x2":50,"y":90,"y2":100,"v":2.6},{"x":59,"x2":97,"y":90,"y2":100,"v":1.8},{"x":117,"x2":128,"y":90,"y2":100,"v":1.6},{"x":133,"x2":156,"y":90,"y2":100,"v":1.6},{"x":161,"x2":196,"y":90,"y2":100,"v":2},{"x":0,"x2":50,"y":80,"y2":90,"v":2.8},{"x":59,"x2":122,"y":80,"y2":90,"v":1.8},{"x":129,"x2":141,"y":80,"y2":90,"v":1.6},{"x":159,"x2":203,"y":80,"y2":90,"v":2.2},{"x":0,"x2":28,"y":70,"y2":80,"v":2.8},{"x":49,"x2":141,"y":70,"y2":80,"v":1.8},{"x":146,"x2":150,"y":70,"y2":80,"v":1.5},{"x":161,"x2":203,"y":70,"y2":80,"v":2.4},{"x":0,"x2":137,"y":60,"y2":70,"v":2},{"x":143,"x2":147,"y":60,"y2":70,"v":1.5},{"x":181,"x2":203,"y":60,"y2":70,"v":2.6},{"x":0,"x2":50,"y":50,"y2":60,"v":2.8},{"x":59,"x2":137,"y":50,"y2":60,"v":1.8},{"x":143,"x2":147,"y":50,"y2":60,"v":1.5},{"x":181,"x2":203,"y":50,"y2":60,"v":2.6},{"x":0,"x2":20,"y":40,"y2":50,"v":2.8},{"x":50,"x2":137,"y":40,"y2":50,"v":1.8},{"x":166,"x2":203,"y":40,"y2":50,"v":2.2},{"x":20,"x2":50,"y":30,"y2":40,"v":1.6},{"x":41,"x2":141,"y":30,"y2":40,"v":1.8},{"x":151,"x2":166,"y":30,"y2":40,"v":1.5},{"x":185,"x2":203,"y":30,"y2":40,"v":1.8},{"x":49,"x2":143,"y":20,"y2":30,"v":1.7},{"x":0,"x2":11,"y":10,"y2":25,"v":1.7},{"x":148,"x2":176,"y":20,"y2":30,"v":1.6},{"x":0,"x2":45,"y":10,"y2":20,"v":1.8},{"x":49,"x2":80,"y":10,"y2":20,"v":1.7},{"x":84,"x2":137,"y":10,"y2":20,"v":1.7},{"x":146,"x2":203,"y":10,"y2":20,"v":1.7},{"x":0,"x2":50,"y":0,"y2":10,"v":2.2},{"x":54,"x2":79,"y":0,"y2":10,"v":1.6},{"x":103,"x2":108,"y":0,"y2":10,"v":1.5},{"x":118,"x2":203,"y":0,"y2":10,"v":2},
{"x":215,"x2":220,"y":388,"y2":400,"v":1.5},{"x":220,"x2":225,"y":378,"y2":387,"v":1.5},{"x":230,"x2":240,"y":372,"y2":387,"v":1.5},{"x":235,"x2":245,"y":381,"y2":400,"v":1.5},{"x":309,"x2":312,"y":397,"y2":400,"v":1.5},{"x":361,"x2":370,"y":397,"y2":400,"v":1.5},{"x":361,"x2":371,"y":388,"y2":392,"v":1.5},{"x":332,"x2":337,"y":367,"y2":371,"v":1.5},{"x":352,"x2":357,"y":356,"y2":366,"v":1.5},{"x":376,"x2":380,"y":372,"y2":386,"v":4},{"x":381,"x2":400,"y":347,"y2":362,"v":2.6},{"x":377,"x2":381,"y":323,"y2":342,"v":1.5},{"x":371,"x2":377,"y":333,"y2":337,"v":1.5},{"x":366,"x2":371,"y":239,"y2":244,"v":1.5},{"x":361,"x2":371,"y":226,"y2":234,"v":1.5},{"x":391,"x2":396,"y":239,"y2":258,"v":1.5},{"x":382,"x2":400,"y":225,"y2":239,"v":1.5},{"x":382,"x2":386,"y":205,"y2":225,"v":1.5},{"x":386,"x2":400,"y":205,"y2":215,"v":1.5},{"x":382,"x2":400,"y":186,"y2":199,"v":1.5},{"x":298,"x2":302,"y":225,"y2":230,"v":1.5},{"x":294,"x2":298,"y":195,"y2":199,"v":1.5},{"x":283,"x2":288,"y":186,"y2":190,"v":1.5},{"x":317,"x2":322,"y":186,"y2":190,"v":1.5},{"x":259,"x2":263,"y":161,"y2":171,"v":1.5},{"x":263,"x2":269,"y":171,"y2":180,"v":1.5},{"x":342,"x2":347,"y":167,"y2":172,"v":1.5},
{"x":332,"x2":342,"y":176,"y2":182,"v":1.5},{"x":327,"x2":342,"y":155,"y2":171,"v":1.5},{"x":312,"x2":342,"y":148,"y2":158,"v":1.5},{"x":279,"x2":297,"y":150,"y2":165,"v":2.8},{"x":269,"x2":307,"y":132,"y2":148,"v":2.4},{"x":274,"x2":307,"y":123,"y2":132,"v":2},{"x":279,"x2":348,"y":117,"y2":123,"v":1.7},{"x":294,"x2":365,"y":102,"y2":117,"v":1.7},{"x":342,"x2":365,"y":123,"y2":148,"v":1.5},{"x":317,"x2":331,"y":132,"y2":136,"v":1.5},{"x":299,"x2":367,"y":96,"y2":102,"v":1.7},{"x":307,"x2":360,"y":90,"y2":96,"v":1.7},{"x":322,"x2":375,"y":79,"y2":90,"v":1.7},{"x":337,"x2":385,"y":69,"y2":79,"v":1.6},{"x":342,"x2":353,"y":61,"y2":69,"v":1.5},{"x":377,"x2":385,"y":56,"y2":69,"v":1.5},{"x":347,"x2":353,"y":46,"y2":61,"v":1.5},{"x":357,"x2":365,"y":40,"y2":54,"v":1.5},{"x":361,"x2":380,"y":29,"y2":40,"v":1.5},{"x":386,"x2":400,"y":105,"y2":123,"v":1.5},{"x":377,"x2":386,"y":103,"y2":107,"v":1.5},{"x":386,"x2":400,"y":84,"y2":98,"v":1.5},{"x":365,"x2":370,"y":93,"y2":98,"v":1.5},{"x":386,"x2":400,"y":38,"y2":43,"v":1.5},
{"x":195,"x2":229,"y":38,"y2":73,"v":2.6},{"x":229,"x2":255,"y":34,"y2":44,"v":1.6},{"x":195,"x2":220,"y":90,"y2":107,"v":1.6},{"x":195,"x2":205,"y":73,"y2":90,"v":2},{"x":195,"x2":200,"y":138,"y2":146,"v":1.5},{"x":205,"x2":210,"y":112,"y2":117,"v":1.5},{"x":220,"x2":225,"y":78,"y2":82,"v":1.5},{"x":235,"x2":240,"y":50,"y2":64,"v":1.5},{"x":322,"x2":331,"y":40,"y2":49,"v":1.5},{"x":215,"x2":235,"y":13,"y2":30,"v":1.6},{"x":195,"x2":215,"y":25,"y2":38,"v":1.6},{"x":200,"x2":215,"y":0,"y2":10,"v":3.2},{"x":250,"x2":254,"y":5,"y2":13,"v":1.5},{"x":259,"x2":263,"y":21,"y2":29,"v":1.5},{"x":263,"x2":283,"y":15,"y2":19,"v":1.5},{"x":263,"x2":268,"y":0,"y2":10,"v":1.5},{"x":245,"x2":258,"y":0,"y2":5,"v":1.5},{"x":283,"x2":297,"y":0,"y2":5,"v":1.5},{"x":293,"x2":297,"y":5,"y2":19,"v":1.5},{"x":298,"x2":302,"y":25,"y2":33,"v":1.5},{"x":303,"x2":317,"y":10,"y2":20,"v":1.5},{"x":307,"x2":317,"y":5,"y2":29,"v":1.5},{"x":322,"x2":365,"y":0,"y2":19,"v":2.6},{"x":332,"x2":365,"y":19,"y2":29,"v":1.8},{"x":365,"x2":386,"y":0,"y2":25,"v":1.5},{"x":386,"x2":400,"y":5,"y2":17,"v":1.5},
{"x":234,"x2":254,"y":205,"y2":220,"v":8},{"x":240,"x2":279,"y":199,"y2":210,"v":10},{"x":245,"x2":275,"y":199,"y2":210,"v":12.5},{"x":250,"x2":275,"y":182,"y2":199,"v":9.5},{"x":264,"x2":269,"y":195,"y2":205,"v":2},{"x":288,"x2":302,"y":172,"y2":181,"v":7.5},{"x":302,"x2":317,"y":157,"y2":176,"v":7.5},{"x":274,"x2":283,"y":167,"y2":171,"v":6},{"x":284,"x2":303,"y":132,"y2":148,"v":5},{"x":371,"x2":386,"y":362,"y2":368,"v":9},{"x":371,"x2":376,"y":368,"y2":375,"v":11},{"x":6,"x2":20,"y":381,"y2":386,"v":11},{"x":0,"x2":11,"y":376,"y2":381,"v":8},{"x":0,"x2":6,"y":397,"y2":400,"v":7},{"x":25,"x2":30,"y":392,"y2":397,"v":7},{"x":59,"x2":64,"y":323,"y2":341,"v":8.5},{"x":50,"x2":59,"y":308,"y2":318,"v":9},{"x":108,"x2":127,"y":397,"y2":400,"v":8},
{"x":34,"x2":39,"y":364,"y2":381,"v":4.5},{"x":30,"x2":39,"y":363,"y2":366,"v":5.5},{"x":39,"x2":59,"y":142,"y2":147,"v":6},{"x":79,"x2":93,"y":123,"y2":151,"v":5},{"x":59,"x2":74,"y":147,"y2":151,"v":6},{"x":118,"x2":127,"y":128,"y2":142,"v":4},{"x":153,"x2":157,"y":132,"y2":142,"v":6},{"x":161,"x2":166,"y":103,"y2":117,"v":5.5},{"x":186,"x2":200,"y":82,"y2":94,"v":7},{"x":0,"x2":6,"y":73,"y2":88,"v":4},{"x":30,"x2":48,"y":65,"y2":73,"v":4.5},{"x":39,"x2":45,"y":55,"y2":65,"v":6},{"x":84,"x2":89,"y":58,"y2":64,"v":7},{"x":0,"x2":11,"y":46,"y2":54,"v":4},{"x":74,"x2":92,"y":25,"y2":30,"v":4.5},{"x":44,"x2":74,"y":30,"y2":34,"v":3.8},{"x":128,"x2":132,"y":34,"y2":44,"v":4.5},{"x":16,"x2":44,"y":0,"y2":10,"v":4},{"x":34,"x2":39,"y":4,"y2":10,"v":6.5},{"x":133,"x2":141,"y":6,"y2":19,"v":4},{"x":153,"x2":161,"y":0,"y2":5,"v":5},{"x":34,"x2":54,"y":165,"y2":182,"v":4},{"x":323,"x2":343,"y":2,"y2":25,"v":4},{"x":347,"x2":361,"y":25,"y2":35,"v":4},{"x":312,"x2":321,"y":117,"y2":126,"v":4.5},{"x":322,"x2":340,"y":100,"y2":115,"v":4.5},{"x":337,"x2":356,"y":83,"y2":89,"v":4},{"x":347,"x2":357,"y":69,"y2":75,"v":5},{"x":303,"x2":307,"y":10,"y2":19,"v":4.5},{"x":293,"x2":297,"y":0,"y2":14,"v":4.5},{"x":390,"x2":400,"y":186,"y2":197,"v":4.5}
]},"mark":{"type":"rect","strokeWidth":0.7},"encoding":{"x":{"field":"x","type":"quantitative","scale":{"domain":[0,400],"nice":false},"axis":{"values":[0,100,200,300,400],"title":"X-Distance (km)","titleFontSize":24,"titlePadding":0,"tickSize":-7,"labelPadding":18,"labelFlush":false}},"x2":{"field":"x2"},"y":{"field":"y","type":"quantitative","scale":{"domain":[0,400],"nice":false},"axis":{"values":[0,100,200,300,400],"title":null,"tickSize":-7,"labelPadding":12,"labelFlush":true}},"y2":{"field":"y2"},"color":{"field":"v","type":"quantitative","legend":null,"scale":{"domain":[0,1.15,1.2,3,5,7.4,10,12,13.6,15.6,17.2,18.8,20],"range":["#1c00dc","#1c00dc","#00eeff","#30e8c8","#88f070","#ffff00","#ffa000","#ff4a10","#ff0040","#ff5080","#ffa0c0","#ffffff","#ffffff"]}},"stroke":{"field":"v","type":"quantitative","legend":null,"scale":{"domain":[0,1.15,1.2,3,5,7.4,10,12,13.6,15.6,17.2,18.8,20],"range":["#1c00dc","#1c00dc","#00eeff","#30e8c8","#88f070","#ffff00","#ffa000","#ff4a10","#ff0040","#ff5080","#ffa0c0","#ffffff","#ffffff"]}}}}
],"spacing":96,"bounds":"flush"},
{"resolve":{"scale":{"color":"independent","stroke":"independent"}},"vconcat":[
{"width":39,"height":348,"data":{"values":[{"y":0,"y2":0.49,"v":0.2},{"y":0.49,"y2":0.75,"v":0.6},{"y":0.75,"y2":1.04,"v":0.9},{"y":1.04,"y2":1.39,"v":1.2},{"y":1.39,"y2":1.79,"v":1.6},{"y":1.79,"y2":2.26,"v":2},{"y":2.26,"y2":2.81,"v":2.5},{"y":2.81,"y2":3.45,"v":3.1},{"y":3.45,"y2":4.19,"v":3.8},{"y":4.19,"y2":5.07,"v":4.6},{"y":5.07,"y2":6.09,"v":5.6},{"y":6.09,"y2":7.28,"v":6.7},{"y":7.28,"y2":8.67,"v":8},{"y":8.67,"y2":10.3,"v":9.5},{"y":10.3,"y2":12.2,"v":11.2},{"y":12.2,"y2":14.4,"v":13.3},{"y":14.4,"y2":17,"v":15.7},{"y":17,"y2":20,"v":18.5},{"y":20,"y2":23.6,"v":21.8},{"y":23.6,"y2":27.7,"v":25.6},{"y":27.7,"y2":32.5,"v":30},{"y":32.5,"y2":38.2,"v":35},{"y":38.2,"y2":44.8,"v":41},{"y":44.8,"y2":52.5,"v":48},{"y":52.5,"y2":61.4,"v":57},{"y":61.4,"y2":72,"v":66},{"y":72,"y2":84.2,"v":78},{"y":84.2,"y2":98.6,"v":91},{"y":98.6,"y2":115,"v":107},{"y":115,"y2":135,"v":125},{"y":135,"y2":158,"v":146},{"y":158,"y2":184,"v":171},{"y":184,"y2":216,"v":200},{"y":216,"y2":252,"v":234},{"y":252,"y2":295,"v":273},{"y":295,"y2":344,"v":320},{"y":344,"y2":402,"v":373},{"y":402,"y2":500,"v":450}]},"mark":{"type":"rect","strokeWidth":0.7},"encoding":{"y":{"field":"y","type":"quantitative","scale":{"type":"symlog","constant":1,"domain":[0,500],"nice":false},"axis":{"orient":"right","values":[0,22,500],"title":null,"tickSize":0,"labelFont":"Liberation Sans","labelFontSize":17,"labelFontWeight":"bold","labelPadding":2,"labelFlush":true}},"y2":{"field":"y2"},"color":{"field":"v","type":"quantitative","legend":null,"scale":{"domain":[0,0.48,0.5,1.24,2.93,4.19,7.28,12.6,18.3,26.6,43.4,59.6,92.4,196,455,500],"range":["#0a96ff","#0a96ff","#0000a0","#0000ff","#4000a8","#50004f","#a00000","#ff0000","#ff5000","#ff9040","#ffa000","#a89a00","#ffff20","#ffff80","#ffffff","#ffffff"]}},"stroke":{"field":"v","type":"quantitative","legend":null,"scale":{"domain":[0,0.48,0.5,1.24,2.93,4.19,7.28,12.6,18.3,26.6,43.4,59.6,92.4,196,455,500],"range":["#0a96ff","#0a96ff","#0000a0","#0000ff","#4000a8","#50004f","#a00000","#ff0000","#ff5000","#ff9040","#ffa000","#a89a00","#ffff20","#ffff80","#ffffff","#ffffff"]}}}},
{"width":39,"height":348,"data":{"values":[{"y":0,"y2":1.2,"v":0.5},{"y":1.2,"y2":1.7,"v":1.4},{"y":1.7,"y2":2.2,"v":1.9},{"y":2.2,"y2":2.7,"v":2.4},{"y":2.7,"y2":3.2,"v":2.9},{"y":3.2,"y2":3.7,"v":3.4},{"y":3.7,"y2":4.2,"v":3.9},{"y":4.2,"y2":4.7,"v":4.4},{"y":4.7,"y2":5.2,"v":4.9},{"y":5.2,"y2":5.7,"v":5.4},{"y":5.7,"y2":6.2,"v":5.9},{"y":6.2,"y2":6.7,"v":6.4},{"y":6.7,"y2":7.2,"v":6.9},{"y":7.2,"y2":7.7,"v":7.4},{"y":7.7,"y2":8.2,"v":7.9},{"y":8.2,"y2":8.7,"v":8.4},{"y":8.7,"y2":9.2,"v":8.9},{"y":9.2,"y2":9.7,"v":9.4},{"y":9.7,"y2":10.2,"v":9.9},{"y":10.2,"y2":10.7,"v":10.4},{"y":10.7,"y2":11.2,"v":10.9},{"y":11.2,"y2":11.7,"v":11.4},{"y":11.7,"y2":12.2,"v":11.9},{"y":12.2,"y2":12.7,"v":12.4},{"y":12.7,"y2":13.2,"v":12.9},{"y":13.2,"y2":13.7,"v":13.4},{"y":13.7,"y2":14.2,"v":13.9},{"y":14.2,"y2":14.7,"v":14.4},{"y":14.7,"y2":15.2,"v":14.9},{"y":15.2,"y2":15.7,"v":15.4},{"y":15.7,"y2":16.2,"v":15.9},{"y":16.2,"y2":16.7,"v":16.4},{"y":16.7,"y2":17.2,"v":16.9},{"y":17.2,"y2":17.7,"v":17.4},{"y":17.7,"y2":18.2,"v":17.9},{"y":18.2,"y2":18.7,"v":18.4},{"y":18.7,"y2":20,"v":19.5}]},"mark":{"type":"rect","strokeWidth":0.7},"encoding":{"y":{"field":"y","type":"quantitative","scale":{"domain":[0,20],"nice":false},"axis":{"orient":"right","values":[0,5,10,15,20],"title":"K/Day","titleFont":"Liberation Sans","titleFontSize":17,"titleFontWeight":"bold","titleX":-68,"tickSize":-4,"labelFontSize":17,"labelFontWeight":"bold","labelPadding":6,"labelFlush":true}},"y2":{"field":"y2"},"color":{"field":"v","type":"quantitative","legend":null,"scale":{"domain":[0,1.15,1.2,3,5,7.4,10,12,13.6,15.6,17.2,18.8,20],"range":["#1c00dc","#1c00dc","#00eeff","#30e8c8","#88f070","#ffff00","#ffa000","#ff4a10","#ff0040","#ff5080","#ffa0c0","#ffffff","#ffffff"]}},"stroke":{"field":"v","type":"quantitative","legend":null,"scale":{"domain":[0,1.15,1.2,3,5,7.4,10,12,13.6,15.6,17.2,18.8,20],"range":["#1c00dc","#1c00dc","#00eeff","#30e8c8","#88f070","#ffff00","#ffa000","#ff4a10","#ff0040","#ff5080","#ffa0c0","#ffffff","#ffffff"]}}}}
],"spacing":317,"bounds":"flush"}
]}
